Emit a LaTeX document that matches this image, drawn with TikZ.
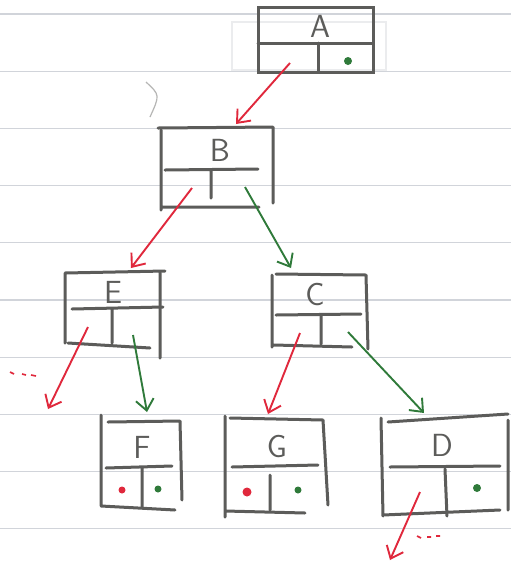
\documentclass[tikz,border=0pt]{standalone}
\usetikzlibrary{arrows.meta}
\definecolor{pen}{HTML}{5C5C5A}
\definecolor{redpen}{HTML}{E0283C}
\definecolor{greenpen}{HTML}{2F7A3A}
\definecolor{ruling}{HTML}{C6C9D0}

\begin{document}
\begin{tikzpicture}[
    x=0.5pt, y=-0.5pt,
    >={Straight Barb[length=5.5pt,width=9pt]},
    box/.style={pen, line width=1.5pt, line cap=round},
    redptr/.style={->, redpen, line width=0.95pt},
    greenptr/.style={->, greenpen, line width=0.95pt},
    every node/.style={font=\sffamily\fontsize{16}{18}\selectfont, text=pen},
]
\useasboundingbox (0,0) rectangle (511,564);

% Lined paper
\fill[white] (0,0) rectangle (511,564);
\foreach \k in {0,...,9}
    \draw[ruling!80, line width=0.6pt] (0,14+57.2*\k) -- (511,14+57.2*\k);
\draw[ruling!35, line width=0.6pt] (232,22) rectangle (386,70);
\draw[pen!45, line width=0.6pt] (146,82) .. controls (160,95) .. (150,117);

% Box A
\draw[box] (258,7) -- (373,7) -- (373,72) -- (258,72) -- cycle;
\draw[box] (258,43) -- (373,43) (318,43) -- (318,72);
\node (A) at (320,26) {A};
\fill[greenpen] (348,61) circle (4);

% Box B
\draw[box] (161,130) -- (161,210) (158,128) -- (273,127) (273,127) -- (273,203)
    (163,207) -- (259,207);
\draw[box] (165,170) -- (258,169) (211,170) -- (211,198);
\node (B) at (220,150) {B};

% Box E
\draw[box] (65,273) -- (65,343) (65,273) -- (165,271) (160,273) -- (160,358)
    (68,343) -- (150,348);
\draw[box] (72,309) -- (163,307) (112,309) -- (112,343);
\node (E) at (113,292) {E};

% Box C
\draw[box] (272,275) -- (272,347) (276,274) -- (366,275) (366,275) -- (368,349)
    (274,345) -- (352,347);
\draw[box] (276,315) -- (361,314) (321,315) -- (321,344);
\node (C) at (315,295) {C};

% Box F
\draw[box] (101,415) -- (101,505) (108,422) -- (180,421) (180,421) -- (182,500)
    (101,506) -- (175,510);
\draw[box] (106,468) -- (172,466) (142,468) -- (142,507);
\node (F) at (142,447) {F};
\fill[redpen] (122,490) circle (3.5);
\fill[greenpen] (158,489) circle (3.5);

% Box G
\draw[box] (225,416) -- (225,517) (230,418) -- (323,420) (323,420) -- (328,505)
    (225,511) -- (305,513);
\draw[box] (232,467) -- (318,465) (270,475) -- (270,510);
\node (G) at (277,447) {G};
\fill[redpen] (247,492) circle (4.5);
\fill[greenpen] (298,490) circle (3.5);

% Box D
\draw[box] (381,418) -- (383,516) (388,422) -- (508,414) (508,420) -- (508,510)
    (383,515) -- (500,510);
\draw[box] (390,467) -- (500,466) (445,469) -- (447,516);
\node (D) at (442,445) {D};
\fill[greenpen] (477,488) circle (4);

% Pointer ends
\coordinate (A-l) at (290,63);
\coordinate (B-in) at (236,124);
\coordinate (B-l) at (192,188);
\coordinate (B-r) at (245,187);
\coordinate (E-in) at (131,268);
\coordinate (C-in) at (291,268);
\coordinate (E-l) at (88,327);
\coordinate (E-r) at (133,335);
\coordinate (E-out) at (48,409);
\coordinate (F-in) at (147,412);
\coordinate (C-l) at (300,333);
\coordinate (C-r) at (348,332);
\coordinate (G-in) at (268,414);
\coordinate (D-in) at (424,413);
\coordinate (D-l) at (420,492);
\coordinate (D-out) at (390,560);

% Pointers
\draw[redptr] (A-l) -- (B-in);
\draw[redptr] (B-l) -- (E-in);
\draw[greenptr] (B-r) -- (C-in);
\draw[redptr] (E-l) -- (E-out);
\draw[greenptr] (E-r) -- (F-in);
\draw[redptr] (C-l) -- (G-in);
\draw[greenptr] (C-r) -- (D-in);
\draw[redptr] (D-l) -- (D-out);

% Trailing dots
\draw[redpen, line width=0.8pt] (10,372) -- (14,374) (22,374) -- (26,375) (31,375) -- (36,376);
\draw[redpen, line width=0.8pt] (417,536) -- (421,538) (427,537) -- (431,537) (436,536) -- (440,536);

\end{tikzpicture}
\end{document}
